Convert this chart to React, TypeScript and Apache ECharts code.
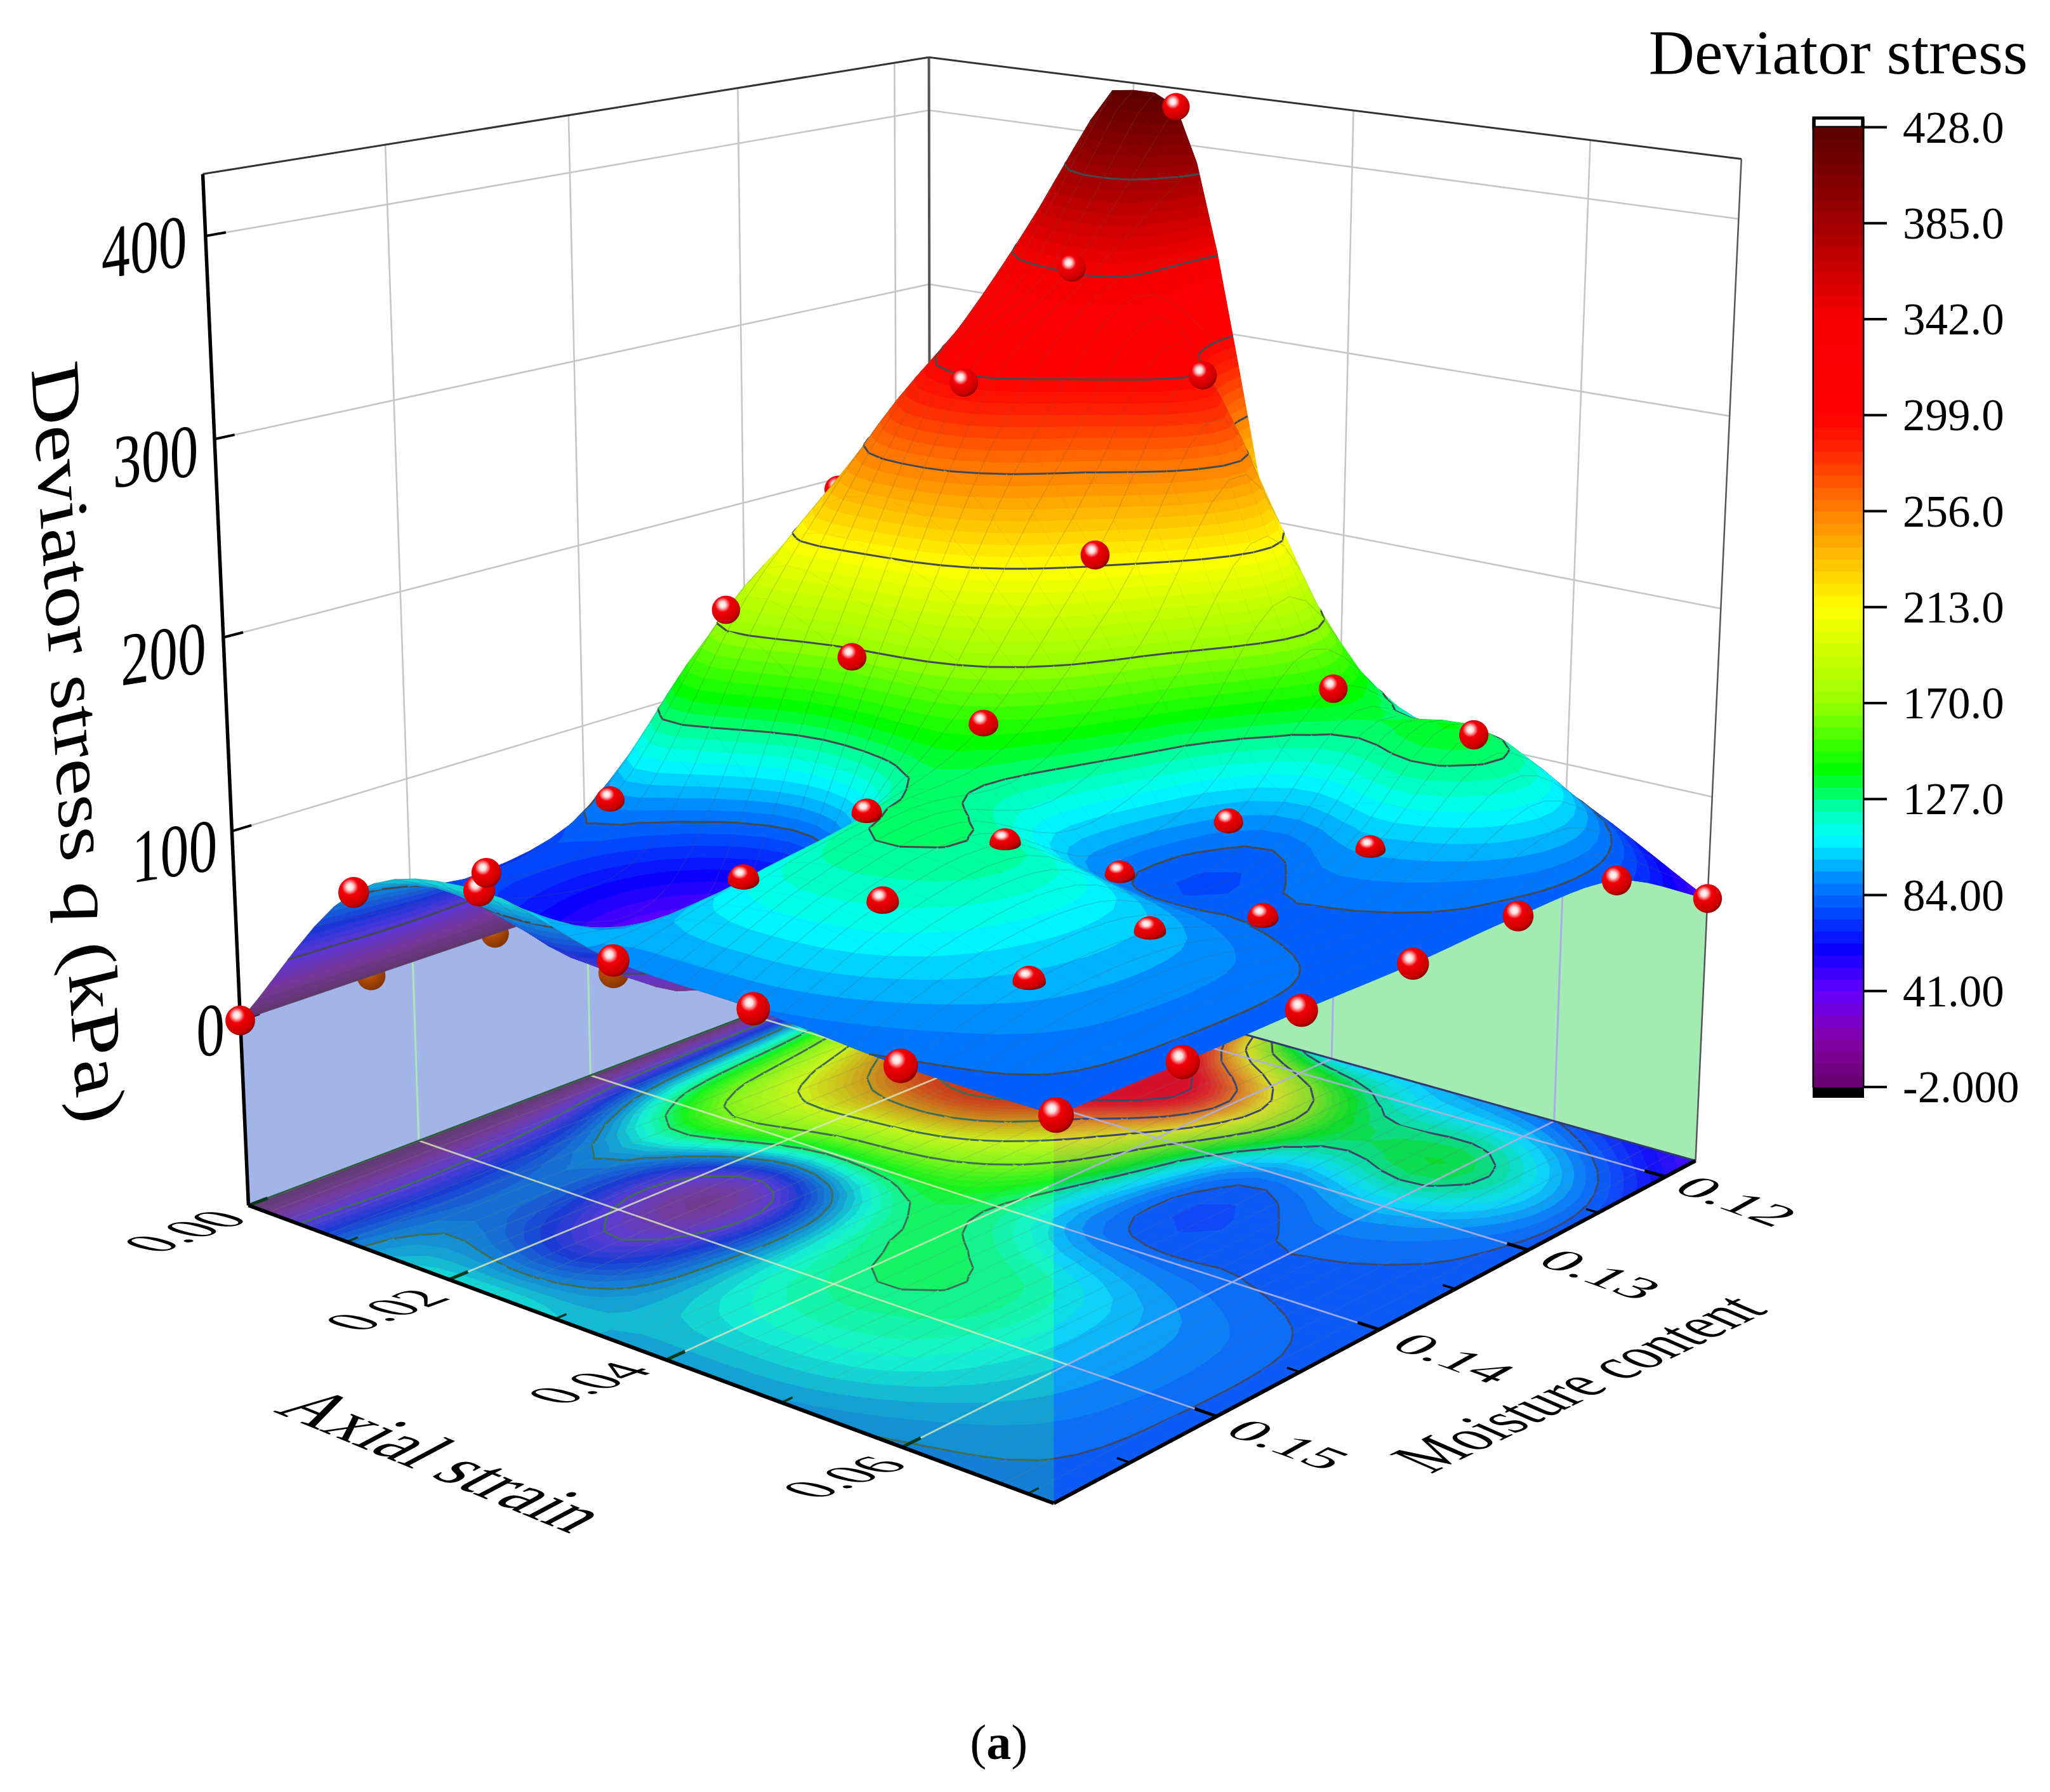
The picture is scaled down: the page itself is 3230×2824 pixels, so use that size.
import React, { useEffect, useRef } from "react";
import * as echarts from "echarts";

// ---------- data ----------
const strainValues = [0, 0.012, 0.024, 0.036, 0.048, 0.06, 0.072];
const moistureValues = [0.1592, 0.1523, 0.1454, 0.1385, 0.1316, 0.1247, 0.1177];
// deviator stress q (kPa): one row per moisture value, one column per strain value
const qRow0 = [0, 87, 107, 92, 89, 83, 82];
const qRow1 = [0, 75, 42, 109, 117, 98, 81];
const qRow2 = [0, 92, 25, 121, 124, 99, 81];
const qRow3 = [0, 176, 166, 147, 86, 83, 80];
const qRow4 = [0, 225, 296, 218, 92, 96, 81];
const qRow5 = [0, 283, 344, 298, 144, 136, 77];
const qRow6 = [0, 350, 420, 140, 105, 85, 45];
const qRows = [qRow0, qRow1, qRow2, qRow3, qRow4, qRow5, qRow6];
const strainTicks = [0, 0.02, 0.04, 0.06];
const strainTickLabels = ["0.00", "0.02", "0.04", "0.06"];
const moistureTicks = [0.12, 0.13, 0.14, 0.15];
const moistureTickLabels = ["0.12", "0.13", "0.14", "0.15"];
const qTicks = [0, 100, 200, 300, 400];
const qTickLabels = ["0", "100", "200", "300", "400"];
const contourLevels = [41, 84, 127, 170, 213, 256, 299, 342, 385];
const colorbarTicks = [-2, 41, 84, 127, 170, 213, 256, 299, 342, 385, 428];

// ---------- view (perspective box of the 3D plot) ----------
const S = 3230 / 1568;
const A = 0.1951, B = 0.1599, C = -0.07005;
const V1 = [3813, -455], V2 = [-3662, -503], V3 = [734, 13197], O = [806, 1150];
const Q_FLOOR = -100, Q_TOP = 430;
function proj(t1: number, t2: number, t3: number) {
  const W = 1 + t1 * A + t2 * B + t3 * C;
  const X = O[0] + t1 * A * V1[0] + t2 * B * V2[0] + t3 * C * V3[0];
  const Y = O[1] + t1 * A * V1[1] + t2 * B * V2[1] + t3 * C * V3[1];
  return [(X / W) * S, (Y / W) * S, W];
}
const zT = (q: number) => (q - Q_FLOOR) / (Q_TOP - Q_FLOOR);
const strainT = (s: number) => 1 - s / strainValues[6];
const moistT = (m: number) => (moistureValues[0] - m) / (moistureValues[0] - moistureValues[6]);

// ---------- colour map ----------
const STOPS: [number, number[]][] = [
  [-2, [100, 0, 106]], [20, [134, 0, 170]], [41, [100, 0, 255]], [60, [10, 0, 255]], [84, [0, 106, 255]],
  [92, [0, 142, 255]], [101, [0, 200, 255]], [110, [0, 255, 255]], [122, [0, 255, 180]], [140, [0, 255, 0]], [170, [150, 255, 0]],
  [213, [255, 255, 0]], [256, [255, 128, 0]], [285, [255, 32, 0]], [299, [255, 0, 0]], [342, [248, 0, 0]],
  [385, [160, 0, 0]], [428, [90, 0, 0]],
];
function colorAt(q: number, under = false) {
  let i = 0;
  while (i < STOPS.length - 2 && q > STOPS[i + 1][0]) i++;
  const [a, ca] = STOPS[i], [b, cb] = STOPS[i + 1];
  const t = Math.max(0, Math.min(1, (q - a) / (b - a)));
  const under_tint = [71, 215, 101];
  return `rgb(${ca
    .map((v, k) => {
      const c = v + (cb[k] - v) * t;
      return Math.round(under ? c * 0.75 + under_tint[k] * 0.25 : c);
    })
    .join(",")})`;
}
const BAND = 43 / 8;
const bandLo = (i: number) => -2 + i * BAND;
const bandColor = (i: number, under = false) => colorAt(bandLo(i) + BAND / 2, under);

// ---------- smooth surface drawn through the 7x7 read values ----------
const N = 6;
const GRID = 6 * N;
function cr(p0: number, p1: number, p2: number, p3: number, t: number) {
  return 0.5 * (2 * p1 + (-p0 + p2) * t + (2 * p0 - 5 * p1 + 4 * p2 - p3) * t * t + (-p0 + 3 * p1 - 3 * p2 + p3) * t * t * t);
}
function smooth(arr: number[]) {
  const out: number[] = [];
  const n = arr.length;
  for (let i = 0; i < n - 1; i++) {
    const p0 = i > 0 ? arr[i - 1] : 2 * arr[0] - arr[1];
    const p3 = i < n - 2 ? arr[i + 2] : 2 * arr[n - 1] - arr[n - 2];
    for (let j = 0; j < N; j++) out.push(cr(p0, arr[i], arr[i + 1], p3, j / N));
  }
  out.push(arr[n - 1]);
  return out;
}
const fineStrain = qRows.map(smooth);
const fine: number[][] = [];
{
  const cols: number[][] = [];
  for (let i = 0; i <= GRID; i++) cols.push(smooth(fineStrain.map((r) => r[i])));
  for (let k = 0; k <= GRID; k++) {
    fine.push(cols.map((c) => Math.max(-2, Math.min(426, c[k]))));
  }
}

// ---------- primitives ----------
type Prim = { kind: "poly" | "line"; pts: number[][]; style: any };
type P3 = [number, number, number];
function clip(poly: P3[], level: number, above: boolean) {
  const out: P3[] = [];
  for (let i = 0; i < poly.length; i++) {
    const a = poly[i], b = poly[(i + 1) % poly.length];
    const ina = above ? a[2] >= level : a[2] <= level;
    const inb = above ? b[2] >= level : b[2] <= level;
    if (ina) out.push(a);
    if (ina !== inb) {
      const t = (level - a[2]) / (b[2] - a[2]);
      out.push([a[0] + (b[0] - a[0]) * t, a[1] + (b[1] - a[1]) * t, level]);
    }
  }
  return out;
}
function area(c: P3[]) {
  let s = 0;
  for (let i = 0; i < c.length; i++) {
    const a = c[i], b = c[(i + 1) % c.length];
    s += a[0] * b[1] - b[0] * a[1];
  }
  return s;
}
function quadPrims(corners: P3[], meshColor: string, contourColor: string, under = false): Prim[] {
  const prims: Prim[] = [];
  const qs = corners.map((c) => c[2]);
  const lo = Math.floor((Math.min(...qs) + 2) / BAND), hi = Math.floor((Math.max(...qs) + 2) / BAND);
  for (let b = lo; b <= hi; b++) {
    let poly = clip(corners, bandLo(b), true);
    if (poly.length >= 3) poly = clip(poly, bandLo(b + 1), false);
    if (poly.length >= 3) {
      const c = bandColor(Math.min(b, 79), under);
      prims.push({ kind: "poly", pts: poly, style: { fill: c, stroke: c, lineWidth: 1 } });
    }
  }
  prims.push({ kind: "line", pts: [corners[1], corners[0], corners[3]], style: { stroke: meshColor, lineWidth: 1.5, fill: "none" } });
  for (const L of contourLevels) {
    const cross: number[][] = [];
    for (let i = 0; i < 4; i++) {
      const a = corners[i], b = corners[(i + 1) % 4];
      if (a[2] < L !== b[2] < L) {
        const t = (L - a[2]) / (b[2] - a[2]);
        cross.push([a[0] + (b[0] - a[0]) * t, a[1] + (b[1] - a[1]) * t]);
      }
    }
    for (let i = 0; i + 1 < cross.length; i += 2) {
      prims.push({ kind: "line", pts: [cross[i], cross[i + 1]], style: { stroke: contourColor, lineWidth: 3, fill: "none" } });
    }
  }
  return prims;
}
function sphere(t1: number, t2: number, q: number, brown: boolean, cut: number): Prim {
  const p = proj(t1, t2, zT(q));
  const r = 27.3 * Math.pow(p[2], -1.14);
  const pts: number[][] = [];
  for (let i = 0; i < 44; i++) {
    const a = (i / 44) * Math.PI * 2;
    const dx = Math.cos(a) * r;
    let dy = Math.sin(a) * r;
    const limit = cut * r * Math.abs(Math.cos(Math.asin(Math.max(-1, Math.min(1, dx / r)))));
    if (dy > limit) dy = limit;
    pts.push([p[0] + dx, p[1] + dy]);
  }
  const stops = brown
    ? [[0, "#e8d8a0"], [0.14, "#c87a20"], [0.4, "#b04a08"], [1, "#7a3000"]]
    : [[0, "#ffffff"], [0.14, "#ffd8d8"], [0.34, "#f00008"], [0.74, "#cc0000"], [1, "#680000"]];
  const fill = new echarts.graphic.RadialGradient(0.38, 0.32, 0.78, stops.map(([offset, color]) => ({ offset: offset as number, color: color as string })));
  return { kind: "poly", pts, style: { fill } };
}
const seg = (a: number[], b: number[], stroke: string, lineWidth: number): Prim => ({ kind: "line", pts: [a, b], style: { stroke, lineWidth, fill: "none" } });

// ---------- layers ----------
const sphereCuts: Record<string, number> = {
  "1,5": 0.45, "1,4": 0.7, "1,3": 0.6, "2,1": 0.75, "2,5": 0.45, "2,4": 0.4, "2,3": 0.6, "3,3": 0.8,
  "3,4": 0.5, "3,5": 0.6, "4,4": 0.7, "4,5": 0.5, "3,2": 0.9,
};
const brownPoints = ["1,0", "2,0", "1,2"];
const coveredPoints = ["2,2", "3,0", "4,0", "5,0", "6,0", "5,1", "6,1", "6,3", "6,4", "6,5"];
const paintedInOrder = ["4,1"];

const wallLayer: Prim[][] = [];
{
  const zero = zT(0);
  const blue: number[][] = [proj(0, 1, 0)];
  for (let k = 0; k <= 6; k++) blue.push(proj(k / 6, 1, zero));
  blue.push(proj(1, 1, 0));
  const green: number[][] = [proj(1, 0, 0)];
  for (let i = GRID; i >= 0; i--) green.push(proj(1, 1 - i / GRID, zT(fine[GRID][i])));
  green.push(proj(1, 1, 0));
  const prims: Prim[] = [];
  const grid = "#c6c6c6";
  for (const q of qTicks) {
    if (q === 0) continue;
    prims.push(seg(proj(0, 1, zT(q)), proj(1, 1, zT(q)), grid, 2.6));
    prims.push(seg(proj(1, 0, zT(q)), proj(1, 1, zT(q)), grid, 2.6));
  }
  for (const m of moistureTicks) prims.push(seg(proj(moistT(m), 1, 0), proj(moistT(m), 1, 1), grid, 2.6));
  for (const s of strainTicks) prims.push(seg(proj(1, strainT(s), 0), proj(1, strainT(s), 1), grid, 2.6));
  prims.push({ kind: "poly", pts: blue, style: { fill: "#a3b5e8" } });
  prims.push({ kind: "poly", pts: green, style: { fill: "#a3ebb2" } });
  for (const m of moistureTicks) prims.push(seg(proj(moistT(m), 1, 0), proj(moistT(m), 1, zero), "#aae6b4", 3));
  for (const s of strainTicks) {
    const i = Math.round((s / strainValues[6]) * GRID);
    prims.push(seg(proj(1, strainT(s), 0), proj(1, strainT(s), zT(fine[GRID][i])), "#aaaae6", 3));
  }
  prims.push(seg(proj(1, 1, 0), proj(1, 1, 1), "#555", 4));
  prims.push(seg(proj(0, 1, 1), proj(1, 1, 1), "#333", 3));
  prims.push(seg(proj(1, 0, 1), proj(1, 1, 1), "#333", 3));
  prims.push(seg(proj(1, 0, 0), proj(1, 0, 1), "#555", 2.5));
  wallLayer.push(prims);
}

const floorLayer: Prim[][] = [];
const surfaceLayer: Prim[][] = [];
for (let K = GRID - 1; K >= 0; K--) {
  for (let I = 0; I < GRID; I++) {
    const ids = [[K, I], [K + 1, I], [K + 1, I + 1], [K, I + 1]];
    const flo = ids.map(([a, b]) => {
      const p = proj(a / GRID, 1 - b / GRID, 0);
      return [p[0], p[1], fine[a][b]] as P3;
    });
    floorLayer.push(quadPrims(flo, "rgba(120,120,120,0.22)", "#3c4650"));
    const sur = ids.map(([a, b]) => {
      const p = proj(a / GRID, 1 - b / GRID, zT(fine[a][b]));
      return [p[0], p[1], fine[a][b]] as P3;
    });
    const under = area(sur) * area(flo) < 0;
    const prims = quadPrims(sur, "rgba(90,90,90,0.22)", "#444b50", under);
    if (K % N === 0 && I % N === 0 && paintedInOrder.includes(`${K / N},${I / N}`)) {
      prims.push(sphere(K / GRID, 1 - I / GRID, qRows[K / N][I / N], false, 1));
    }
    surfaceLayer.push(prims);
  }
}
{
  const xCut = 806 * S;
  const L = proj(0, 1, 0), Bk = proj(1, 1, 0), R = proj(1, 0, 0), F = proj(0, 0, 0);
  const tt = (xCut - Bk[0]) / (R[0] - Bk[0]);
  const M = [xCut, Bk[1] + (R[1] - Bk[1]) * tt];
  const prims: Prim[] = [
    { kind: "poly", pts: [L, Bk, M, F], style: { fill: "rgba(71,215,101,0.28)" } },
    { kind: "poly", pts: [M, R, F], style: { fill: "rgba(60,80,215,0.2)" } },
  ];
  const gridLine = (f: (t: number) => number[]) => {
    for (let i = 0; i < 30; i++) {
      const a = f(i / 30), b = f((i + 1) / 30);
      prims.push(seg(a, b, (a[0] + b[0]) / 2 < xCut ? "rgba(222,232,190,0.8)" : "rgba(175,175,225,0.9)", 2.8));
    }
  };
  for (const s of strainTicks) gridLine((t) => proj(t, strainT(s), 0));
  for (const m of moistureTicks) gridLine((t) => proj(moistT(m), t, 0));
  floorLayer.push(prims);
}
const axisLayer: Prim[][] = [];
{
  const prims: Prim[] = [];
  prims.push(seg(proj(0, 1, 0), proj(1, 1, 0), "#2f5a44", 3));
  prims.push(seg(proj(1, 0, 0), proj(1, 1, 0), "#303a70", 3));
  for (const q of qTicks) prims.push(seg(proj(0, 1, zT(q)), proj(0.024, 1, zT(q)), "#000", 4));
  for (let s = 0; s <= 0.0701; s += 0.01) {
    const major = Math.round(s * 100) % 2 === 0;
    prims.push(seg(proj(0, strainT(s), 0), proj(major ? 0.024 : 0.014, strainT(s), 0), "#0a3a20", major ? 5 : 3.5));
  }
  for (let m = 0.12; m <= 0.1551; m += 0.005) {
    const major = Math.round(m * 1000) % 10 === 0;
    prims.push(seg(proj(moistT(m), 0, 0), proj(moistT(m), major ? 0.024 : 0.014, 0), "#000", major ? 5 : 3.5));
  }
  prims.push(seg(proj(0, 1, 0), proj(0, 1, 1), "#000", 5.5));
  prims.push(seg(proj(0, 1, 0), proj(0, 0, 0), "#000", 6));
  prims.push(seg(proj(0, 0, 0), proj(1, 0, 0), "#000", 6));
  axisLayer.push(prims);
}
const brownLayer: Prim[][] = [];
const redLayer: Prim[][] = [];
qRows.forEach((row, k) =>
  row.forEach((q, i) => {
    const key = `${k},${i}`;
    if (coveredPoints.includes(key) || paintedInOrder.includes(key)) return;
    if (brownPoints.includes(key)) brownLayer.push([sphere(k / 6, 1 - i / 6, q, true, 1)]);
    else redLayer.push([sphere(k / 6, 1 - i / 6, q, false, sphereCuts[key] ?? 1)]);
  })
);

function layerSeries(items: Prim[][]) {
  return {
    type: "custom",
    coordinateSystem: "cartesian2d",
    xAxisIndex: 0,
    yAxisIndex: 0,
    silent: true,
    clip: false,
    progressive: 0,
    data: items.map((_, i) => [i, 0]),
    encode: { x: 0, y: 1 },
    renderItem: (params: any, api: any) => ({
      type: "group",
      children: items[params.dataIndex].map((p) => {
        const pts = p.pts.map((v) => api.coord([v[0], v[1]]));
        return { type: p.kind === "poly" ? "polygon" : "polyline", shape: { points: pts }, style: p.style, silent: true };
      }),
    }),
  };
}

const colorbarBands = Array.from({ length: 80 }, (_, i) => i);
const font = "Liberation Serif";
type TextOpts = { deg?: number; size: number; sx?: number; sy?: number; skew?: number; italic?: boolean; rich?: any };
function label(text: string, cx: number, cy: number, o: TextOpts) {
  return {
    type: "text",
    x: cx * S,
    y: cy * S,
    rotation: ((o.deg ?? 0) * Math.PI) / 180,
    scaleX: o.sx ?? 1,
    scaleY: o.sy ?? 1,
    skewX: ((o.skew ?? 0) * Math.PI) / 180,
    silent: true,
    style: {
      text,
      fontFamily: font,
      fontSize: o.size,
      fontStyle: o.italic ? "italic" : "normal",
      fill: "#000",
      align: "center",
      verticalAlign: "middle",
      rich: o.rich,
    },
  };
}

export default function App() {
  const ref = useRef<HTMLDivElement>(null);
  useEffect(() => {
    document.body.style.margin = "0";
    const chart = echarts.init(ref.current!, undefined, { renderer: "svg" });
    const qTickPos = [[161, 788], [133.5, 651], [125, 500], [119, 349], [110.4, 189]];
    const sPos = [[141, 942], [295, 1002], [450, 1058], [645, 1130]];
    const mPos = [[1328, 919], [1224, 975], [1112, 1039], [985, 1105]];
    const graphic: any[] = [
      { type: "rect", shape: { x: 2858, y: 186, width: 77, height: 15 }, style: { fill: "#fff", stroke: "#000", lineWidth: 5 }, silent: true },
      { type: "rect", shape: { x: 2856, y: 1713, width: 81, height: 17 }, style: { fill: "#000" }, silent: true },
      { type: "line", shape: { x1: 2858, y1: 186, x2: 2858, y2: 1714 }, style: { stroke: "#000", lineWidth: 5 }, silent: true },
      { type: "line", shape: { x1: 2935, y1: 186, x2: 2935, y2: 1714 }, style: { stroke: "#000", lineWidth: 5 }, silent: true },
      label("Deviator stress", 1406, 40, { size: 100 }),
      label("{a|Deviator stress }{b|q}{a| (kPa)}", 60, 568, {
        deg: -86.5, size: 120, sx: 1.09, sy: 0.92, skew: 9.8,
        rich: { a: { fontFamily: font, fontSize: 120 }, b: { fontFamily: font, fontSize: 120, fontStyle: "italic" } },
      }),
      label("Axial strain", 340, 1117, { deg: -22.4, size: 108, sy: 0.88, skew: -39.6 }),
      label("Moisture content", 1207, 1058, { deg: 25.7, size: 87, sy: 0.98, skew: 40.7 }),
      label("{n|(}{b|a}{n|)}", 764, 1333, {
        size: 78,
        rich: { n: { fontFamily: font, fontSize: 78 }, b: { fontFamily: font, fontSize: 78, fontWeight: "bold" } },
      }),
    ];
    qTickLabels.forEach((t, i) => graphic.push(label(t, qTickPos[i][0], qTickPos[i][1], { deg: 9, size: 118, sx: 0.77, sy: 0.99, skew: -9 })));
    strainTickLabels.forEach((t, i) => graphic.push(label(t, sPos[i][0], sPos[i][1], { deg: 20, size: 90, sy: 0.62, skew: 55 })));
    moistureTickLabels.forEach((t, i) => graphic.push(label(t, mPos[i][0], mPos[i][1], { deg: -20, size: 100, sy: 0.56, skew: -41 })));
    chart.setOption({
      animation: false,
      backgroundColor: "#fff",
      grid: [
        { left: 0, top: 0, right: 0, bottom: 0 },
        { left: 2858, width: 77, top: 200.5, height: 1512.5 },
      ],
      xAxis: [
        { type: "value", gridIndex: 0, min: 0, max: 3230, show: false },
        { type: "value", gridIndex: 1, min: 0, max: 1, show: false },
      ],
      yAxis: [
        { type: "value", gridIndex: 0, min: 0, max: 2824, inverse: true, show: false },
        {
          type: "value",
          gridIndex: 1,
          position: "right",
          min: -2,
          max: 428,
          axisLine: { show: false },
          splitLine: { show: false },
          axisTick: { show: false },
          axisLabel: {
            show: true,
            margin: 63,
            fontFamily: font,
            fontSize: 71,
            color: "#000",
            customValues: colorbarTicks,
            formatter: (v: number) => Number(v).toPrecision(4),
          },
        },
      ],
      series: [
        {
          type: "custom",
          coordinateSystem: "cartesian2d",
          xAxisIndex: 1,
          yAxisIndex: 1,
          silent: true,
          data: colorbarBands.map((b) => [b, 0]),
          encode: { x: 1, y: 1 },
          renderItem: (params: any, api: any) => {
            const b = colorbarBands[params.dataIndex];
            const p0 = api.coord([0, bandLo(b)]);
            const p1 = api.coord([1, bandLo(b + 1)]);
            return {
              type: "rect",
              shape: { x: p0[0], y: p1[1], width: p1[0] - p0[0], height: p0[1] - p1[1] + 0.8 },
              style: { fill: bandColor(b) },
            };
          },
        },
        {
          type: "custom",
          coordinateSystem: "cartesian2d",
          xAxisIndex: 1,
          yAxisIndex: 1,
          silent: true,
          z: 5,
          data: colorbarTicks.map((v) => [1, v]),
          encode: { x: 0, y: 1 },
          renderItem: (params: any, api: any) => {
            const p = api.coord([1, colorbarTicks[params.dataIndex]]);
            return {
              type: "line",
              shape: { x1: p[0], y1: p[1], x2: p[0] + 38, y2: p[1] },
              style: { stroke: "#000", lineWidth: 4 },
            };
          },
        },
        layerSeries(wallLayer),
        layerSeries(floorLayer),
        layerSeries(axisLayer),
        layerSeries(brownLayer),
        layerSeries(surfaceLayer),
        layerSeries(redLayer),
      ],
      graphic,
    });
    return () => chart.dispose();
  }, []);
  return <div ref={ref} style={{ position: "absolute", left: 0, top: 0, width: 3230, height: 2824 }} />;
}
